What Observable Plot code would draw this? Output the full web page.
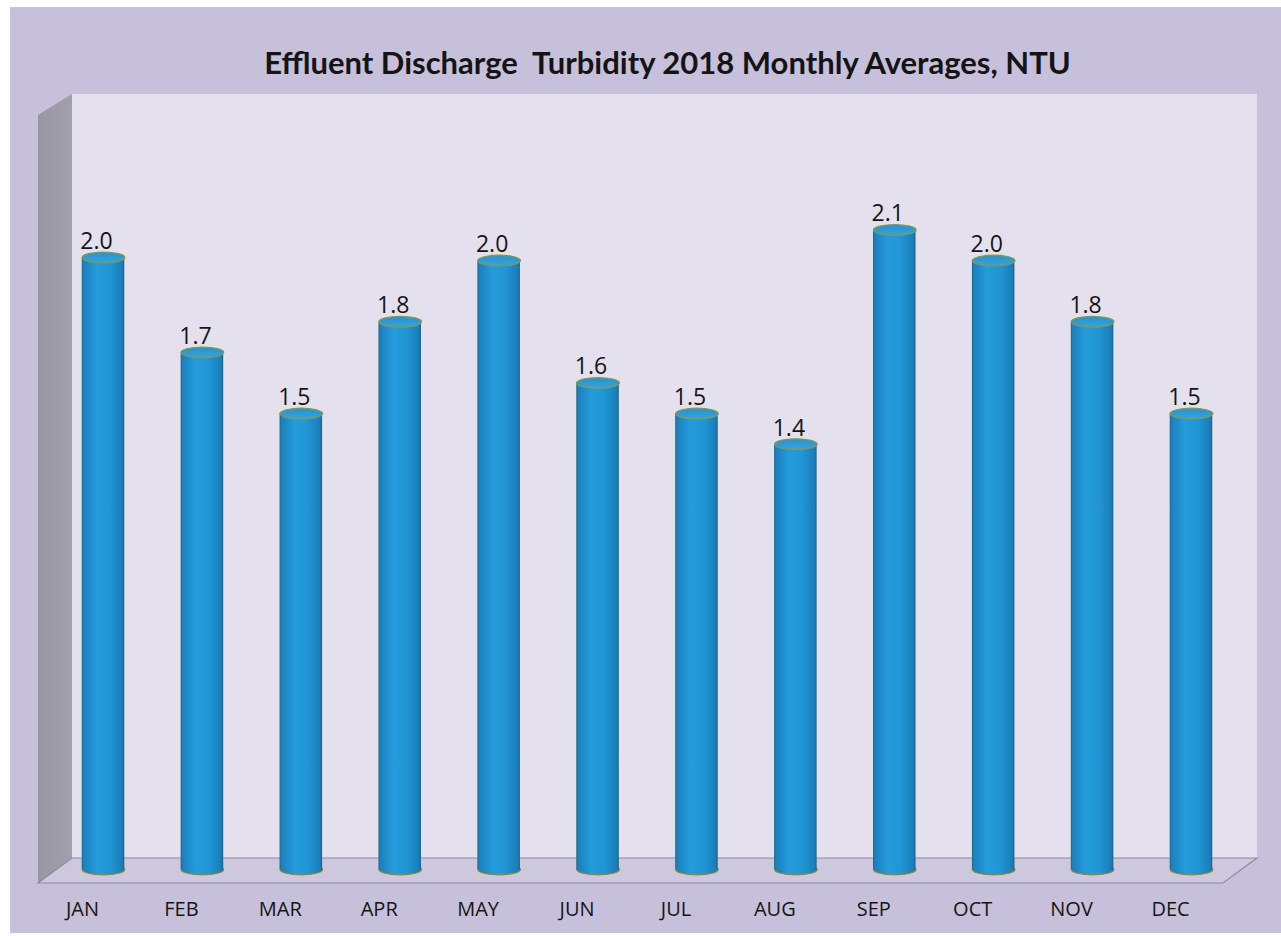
<!DOCTYPE html>
<html>
<head>
<meta charset="utf-8">
<script src="https://cdn.jsdelivr.net/npm/d3@7"></script>
<script src="https://cdn.jsdelivr.net/npm/@observablehq/plot@0.6"></script>
<style>
  html, body { margin: 0; padding: 0; background: #ffffff; overflow: hidden; width: 1281px; height: 936px; }
  #page { position: absolute; left: 10px; top: 7px; right: 0; bottom: 3px; background: #c7c0da; }
  #title { position: absolute; top: 47px; left: 667.5px; transform: translateX(-50%); white-space: pre;
           font-family: Lato, "Open Sans", sans-serif; font-weight: 700; font-size: 31px; line-height: 1; color: #141414; }
  #chart { position: absolute; left: 0; top: 88px; }
</style>
</head>
<body>
<div id="page"></div>
<div id="title">Effluent Discharge  Turbidity 2018 Monthly Averages, NTU</div>
<div id="chart"></div>
<script>
// ---- data ----
const months = ["JAN", "FEB", "MAR", "APR", "MAY", "JUN", "JUL", "AUG", "SEP", "OCT", "NOV", "DEC"];
const turbidity = [2.00, 1.69, 1.49, 1.79, 1.99, 1.59, 1.49, 1.39, 2.09, 1.99, 1.79, 1.49];
const yDomain = [0, 2.5];

const data = months.map((m, i) => ({month: m, value: turbidity[i]}));

// ---- layout ----
const W = 1281, H = 848;
const mL = 72, mR = 24, mT = 6, mB = 53;
const depthX = 34, depthY = 25;
const cylR = 21.3;

// ellipse symbol for cylinder caps
const K = 0.5523;
function ellipse(ratio) {
  return {
    draw(ctx, size) {
      const rx = Math.sqrt(size / Math.PI), ry = rx * ratio;
      ctx.moveTo(rx, 0);
      ctx.bezierCurveTo(rx, ry * K, rx * K, ry, 0, ry);
      ctx.bezierCurveTo(-rx * K, ry, -rx, ry * K, -rx, 0);
      ctx.bezierCurveTo(-rx, -ry * K, -rx * K, -ry, 0, -ry);
      ctx.bezierCurveTo(rx * K, -ry, rx, -ry * K, rx, 0);
      ctx.closePath();
    }
  };
}
const cap = ellipse(0.25);

const chart = Plot.plot({
  width: W,
  height: H,
  marginLeft: mL,
  marginRight: mR,
  marginTop: mT,
  marginBottom: mB,
  style: {background: "transparent", overflow: "visible"},
  x: {domain: months, paddingInner: 0.57, paddingOuter: 0, insetLeft: 9.75, insetRight: 44.75, round: false, axis: null},
  y: {domain: yDomain, insetBottom: 14, insetTop: 10, axis: null},
  marks: [
    // bottom caps
    Plot.dot(data, {x: "month", y: () => 0, r: cylR, symbol: cap, fill: "url(#cylGrad)", stroke: "#7f8f3a", strokeWidth: 1.2}),
    // cylinder bodies
    Plot.barY(data, {x: "month", y: "value", fill: "url(#cylGrad)"}),
    // top caps
    Plot.dot(data, {x: "month", y: "value", r: cylR, symbol: cap, fill: "url(#capGrad)", stroke: "#8f9445", strokeWidth: 1.3}),
    // value labels
    Plot.text(data, {x: "month", y: "value", text: d => d3.format(".1f")(d.value), dy: -16, dx: -7,
      fontSize: 23, fontFamily: "'Open Sans', sans-serif", fill: "#151515"}),
    // month labels
    Plot.text(months, {x: d => d, frameAnchor: "bottom", dy: 32, dx: -21, fontSize: 20,
      fontFamily: "'Open Sans', sans-serif", fill: "#151515"})
  ]
});

document.getElementById("chart").appendChild(chart);

// ---- 3D walls, gradients (decoration behind the marks) ----
const svg = d3.select(chart);
const defs = svg.insert("defs", ":first-child");
const g1 = defs.append("linearGradient").attr("id", "cylGrad").attr("x1", 0).attr("x2", 1).attr("y1", 0).attr("y2", 0);
[["0%", "#24627a"], ["4%", "#1b80be"], ["35%", "#259bdb"], ["65%", "#2196d4"], ["95%", "#1a7dbb"], ["100%", "#21607a"]]
  .forEach(([o, c]) => g1.append("stop").attr("offset", o).attr("stop-color", c));
const g2 = defs.append("linearGradient").attr("id", "capGrad").attr("x1", 0).attr("x2", 0).attr("y1", 0).attr("y2", 1);
[["0%", "#2c90c6"], ["100%", "#33a5e0"]]
  .forEach(([o, c]) => g2.append("stop").attr("offset", o).attr("stop-color", c));
const g3 = defs.append("linearGradient").attr("id", "sideGrad").attr("x1", 0).attr("x2", 1).attr("y1", 0).attr("y2", 0);
[["0%", "#9896a2"], ["100%", "#a3a0ad"]]
  .forEach(([o, c]) => g3.append("stop").attr("offset", o).attr("stop-color", c));

const x0 = mL, x1 = W - mR, yTop = mT, yBack = H - mB - depthY, yFront = H - mB;
const walls = svg.insert("g", "g[aria-label]");
// back wall
walls.append("rect").attr("x", x0).attr("y", yTop).attr("width", x1 - x0).attr("height", yBack - yTop)
  .attr("fill", "#e5e0ed");
// side wall
walls.append("polygon")
  .attr("points", [[x0, yTop], [x0, yBack], [x0 - depthX, yFront], [x0 - depthX, yTop + 21]].join(" "))
  .attr("fill", "url(#sideGrad)");
// floor
walls.append("polygon")
  .attr("points", [[x0, yBack], [x1, yBack], [x1 - depthX, yFront], [x0 - depthX, yFront]].join(" "))
  .attr("fill", "#cec8de").attr("stroke", "#8e8c9a").attr("stroke-width", 1.2);
</script>
</body>
</html>
